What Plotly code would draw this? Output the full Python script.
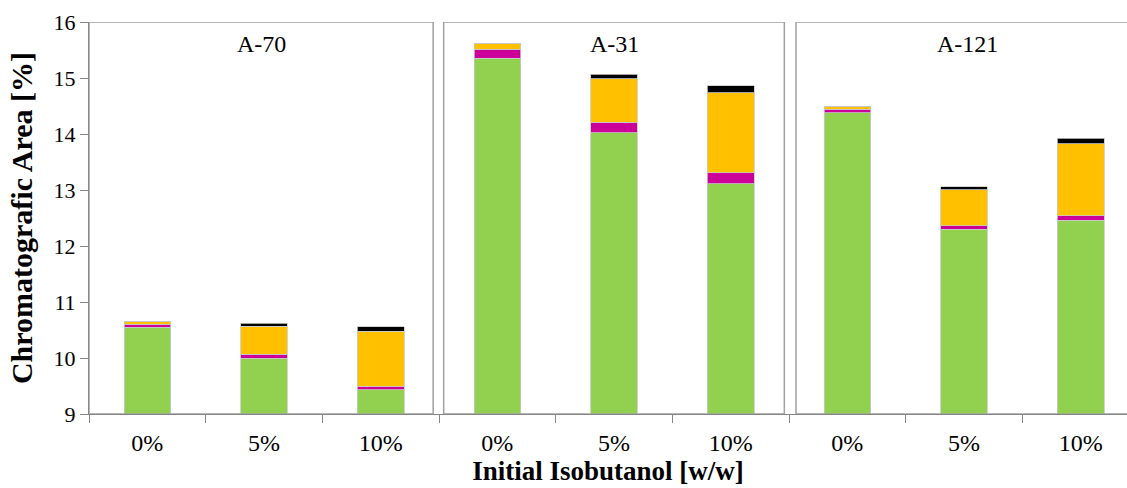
import plotly.graph_objects as go

# ---- data ----
panels = ["A-70", "A-31", "A-121"]
concentrations = ["0%", "5%", "10%"]
green = [10.55, 10.00, 9.43, 15.35, 14.02, 13.11, 14.38, 12.30, 12.46]
magenta = [0.05, 0.07, 0.07, 0.16, 0.19, 0.20, 0.06, 0.06, 0.08]
orange = [0.06, 0.50, 0.98, 0.11, 0.78, 1.43, 0.06, 0.645, 1.29]
black = [0.00, 0.055, 0.08, 0.00, 0.08, 0.12, 0.00, 0.055, 0.09]
y_ticks = [9, 10, 11, 12, 13, 14, 15, 16]

# ---- derived positions ----
labels = [c for _ in panels for c in concentrations]
xpos = list(range(len(labels)))
boundaries = [i - 0.5 for i in range(len(labels) + 1)]

FONT = "Liberation Serif"
fig = go.Figure()
series = [
    ("Green", green, "#92D050"),
    ("Magenta", magenta, "#CC0099"),
    ("Orange", orange, "#FFC000"),
    ("Black", black, "#000000"),
]
for name, vals, col in series:
    fig.add_trace(go.Bar(
        x=xpos, y=vals, name=name, width=0.4,
        marker=dict(color=col, line=dict(color="#c8c8c8", width=0.8)),
        showlegend=False,
    ))

# invisible trace to activate boundary-tick axis
fig.add_trace(go.Scatter(x=[boundaries[0]], y=[9], xaxis="x2", mode="markers",
                         marker=dict(opacity=0), showlegend=False, hoverinfo="skip"))

xr = [-0.5, 8.397]
fig.update_layout(
    width=1127, height=488,
    margin=dict(l=89, r=0, t=22, b=74),
    barmode="stack",
    plot_bgcolor="white", paper_bgcolor="white",
    font=dict(family=FONT, color="black"),
    xaxis=dict(
        range=xr, tickvals=xpos, ticktext=labels, ticks="",
        tickfont=dict(size=24, family=FONT, color="black"), ticklabelstandoff=7,
        showline=True, linecolor="#868686", linewidth=1, showgrid=False, zeroline=False,
        title=dict(text="<b>Initial Isobutanol [w/w]</b>", font=dict(size=27, family=FONT, color="black"), standoff=3),
    ),
    xaxis2=dict(
        range=xr, overlaying="x", side="bottom", tickvals=boundaries, ticks="outside",
        ticklen=8, tickcolor="#868686", showticklabels=False, showgrid=False, zeroline=False,
        showline=False,
    ),
    yaxis=dict(
        range=[9, 16], tickvals=y_ticks, ticks="outside", ticklen=8, tickcolor="#868686",
        tickfont=dict(size=22, family=FONT, color="black"), showline=True, linecolor="#868686", linewidth=1,
        showgrid=False, zeroline=False,
        title=dict(text="<b>Chromatografic Area [%]</b>", font=dict(size=30, family=FONT, color="black"), standoff=12),
    ),
)

# panel boxes and labels
box_edges = [(-0.5, 2.45), (2.54, 5.46), (5.56, 8.5)]
for (x0, x1), name in zip(box_edges, panels):
    fig.add_shape(type="rect", x0=x0, x1=x1, y0=9, y1=16, xref="x", yref="y",
                  line=dict(color="#a0a0a0", width=1.5), layer="above")
    fig.add_annotation(x=(x0 + x1) / 2, y=15.6, xref="x", yref="y", text=name,
                       showarrow=False, font=dict(size=24, family=FONT, color="black"))

fig.write_html("out.html")
